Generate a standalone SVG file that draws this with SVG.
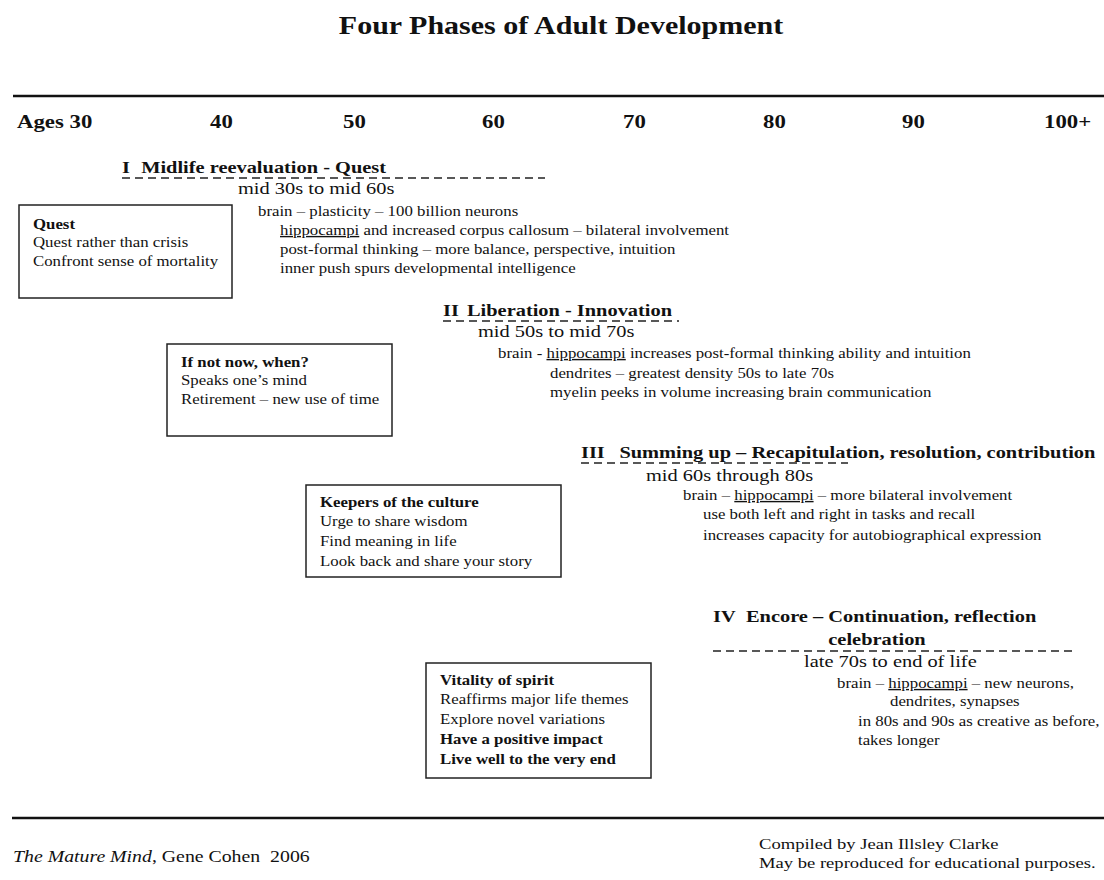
<svg xmlns="http://www.w3.org/2000/svg" width="1104" height="880" viewBox="0 0 1104 880">
<style>
text{font-family:"Liberation Serif","Times New Roman",serif;fill:#111}
.t{font-size:25px;font-weight:bold}
.age{font-size:19px;font-weight:bold}
.ph{font-size:17px;font-weight:bold}
.rng{font-size:17px}
.br{font-size:14px}
.bx{font-size:14px}
.b{font-weight:bold}
.box{fill:#fff;stroke:#222;stroke-width:1.5}
.rule{stroke:#111;stroke-width:2.5}
.dash{stroke:#222;stroke-width:1.6;stroke-dasharray:8 5;fill:none}
.u{text-decoration:underline}
</style>
<text class="t" transform="matrix(1.2 0 0 1 561 0)" x="0" y="34" text-anchor="middle">Four Phases of Adult Development</text>
<line class="rule" x1="13" y1="96" x2="1104" y2="96"/>
<g id="ages">
<text class="age" transform="matrix(1.2 0 0 1 17 0)" x="0" y="128">Ages 30</text>
<text class="age" transform="matrix(1.2 0 0 1 210 0)" x="0" y="128">40</text>
<text class="age" transform="matrix(1.2 0 0 1 343 0)" x="0" y="128">50</text>
<text class="age" transform="matrix(1.2 0 0 1 482 0)" x="0" y="128">60</text>
<text class="age" transform="matrix(1.2 0 0 1 623 0)" x="0" y="128">70</text>
<text class="age" transform="matrix(1.2 0 0 1 763 0)" x="0" y="128">80</text>
<text class="age" transform="matrix(1.2 0 0 1 902 0)" x="0" y="128">90</text>
<text class="age" transform="matrix(1.2 0 0 1 1044 0)" x="0" y="128">100+</text>
</g>
<g id="phase1">
<text class="ph" transform="matrix(1.2 0 0 1 122 0)" x="0" y="173">I<tspan x="16">Midlife reevaluation - Quest</tspan></text>
<line class="dash" x1="122" y1="178" x2="545" y2="178"/>
<text class="rng" transform="matrix(1.2 0 0 1 238 0)" x="0" y="194">mid 30s to mid 60s</text>
<text class="br" transform="matrix(1.2 0 0 1 258 0)" x="0" y="216">brain – plasticity – 100 billion neurons</text>
<text class="br" transform="matrix(1.2 0 0 1 280 0)" x="0" y="235"><tspan class="u">hippocampi</tspan> and increased corpus callosum – bilateral involvement</text>
<text class="br" transform="matrix(1.2 0 0 1 280 0)" x="0" y="254">post-formal thinking – more balance, perspective, intuition</text>
<text class="br" transform="matrix(1.2 0 0 1 280 0)" x="0" y="273">inner push spurs developmental intelligence</text>
</g>
<g id="box1">
<rect class="box" x="19" y="205" width="213" height="93"/>
<text class="bx b" transform="matrix(1.2 0 0 1 33 0)" x="0" y="229">Quest</text>
<text class="bx" transform="matrix(1.2 0 0 1 33 0)" x="0" y="247">Quest rather than crisis</text>
<text class="bx" transform="matrix(1.2 0 0 1 33 0)" x="0" y="266">Confront sense of mortality</text>
</g>
<g id="phase2">
<text class="ph" transform="matrix(1.2 0 0 1 443 0)" x="0" y="316">II<tspan x="20">Liberation - Innovation</tspan></text>
<line class="dash" x1="443" y1="321" x2="679" y2="321"/>
<text class="rng" transform="matrix(1.2 0 0 1 478 0)" x="0" y="337">mid 50s to mid 70s</text>
<text class="br" transform="matrix(1.2 0 0 1 498 0)" x="0" y="358">brain - <tspan class="u">hippocampi</tspan> increases post-formal thinking ability and intuition</text>
<text class="br" transform="matrix(1.2 0 0 1 550 0)" x="0" y="378">dendrites – greatest density 50s to late 70s</text>
<text class="br" transform="matrix(1.2 0 0 1 550 0)" x="0" y="397">myelin peeks in volume increasing brain communication</text>
</g>
<g id="box2">
<rect class="box" x="167" y="344" width="225" height="92"/>
<text class="bx b" transform="matrix(1.2 0 0 1 181 0)" x="0" y="367">If not now, when?</text>
<text class="bx" transform="matrix(1.2 0 0 1 181 0)" x="0" y="385">Speaks one’s mind</text>
<text class="bx" transform="matrix(1.2 0 0 1 181 0)" x="0" y="404">Retirement – new use of time</text>
</g>
<g id="phase3">
<text class="ph" transform="matrix(1.2 0 0 1 581 0)" x="0" y="458">III<tspan x="32">Summing up – Recapitulation, resolution, contribution</tspan></text>
<line class="dash" x1="581" y1="463" x2="848" y2="463"/>
<text class="rng" transform="matrix(1.2 0 0 1 646 0)" x="0" y="481">mid 60s through 80s</text>
<text class="br" transform="matrix(1.2 0 0 1 683 0)" x="0" y="500">brain – <tspan class="u">hippocampi</tspan> – more bilateral involvement</text>
<text class="br" transform="matrix(1.2 0 0 1 703 0)" x="0" y="519">use both left and right in tasks and recall</text>
<text class="br" transform="matrix(1.2 0 0 1 703 0)" x="0" y="540">increases capacity for autobiographical expression</text>
</g>
<g id="box3">
<rect class="box" x="306" y="485" width="255" height="92"/>
<text class="bx b" transform="matrix(1.2 0 0 1 320 0)" x="0" y="507">Keepers of the culture</text>
<text class="bx" transform="matrix(1.2 0 0 1 320 0)" x="0" y="526">Urge to share wisdom</text>
<text class="bx" transform="matrix(1.2 0 0 1 320 0)" x="0" y="546">Find meaning in life</text>
<text class="bx" transform="matrix(1.2 0 0 1 320 0)" x="0" y="566">Look back and share your story</text>
</g>
<g id="phase4">
<text class="ph" transform="matrix(1.2 0 0 1 713 0)" x="0" y="622">IV<tspan x="27.5">Encore – Continuation, reflection</tspan></text>
<text class="ph" transform="matrix(1.2 0 0 1 877 0)" x="0" y="645" text-anchor="middle">celebration</text>
<line class="dash" x1="713" y1="651" x2="1075" y2="651"/>
<text class="rng" transform="matrix(1.2 0 0 1 804 0)" x="0" y="667">late 70s to end of life</text>
<text class="br" transform="matrix(1.2 0 0 1 837 0)" x="0" y="688">brain – <tspan class="u">hippocampi</tspan> – new neurons,</text>
<text class="br" transform="matrix(1.2 0 0 1 890 0)" x="0" y="706">dendrites, synapses</text>
<text class="br" transform="matrix(1.2 0 0 1 858 0)" x="0" y="726">in 80s and 90s as creative as before,</text>
<text class="br" transform="matrix(1.2 0 0 1 858 0)" x="0" y="745">takes longer</text>
</g>
<g id="box4">
<rect class="box" x="426" y="663" width="225" height="115"/>
<text class="bx b" transform="matrix(1.2 0 0 1 440 0)" x="0" y="685">Vitality of spirit</text>
<text class="bx" transform="matrix(1.2 0 0 1 440 0)" x="0" y="704">Reaffirms major life themes</text>
<text class="bx" transform="matrix(1.2 0 0 1 440 0)" x="0" y="724">Explore novel variations</text>
<text class="bx b" transform="matrix(1.2 0 0 1 440 0)" x="0" y="744">Have a positive impact</text>
<text class="bx b" transform="matrix(1.2 0 0 1 440 0)" x="0" y="764">Live well to the very end</text>
</g>
<g id="connectors"></g>
<line class="rule" x1="12" y1="818" x2="1104" y2="818"/>
<text transform="matrix(1.2 0 0 1 13 0)" x="0" y="862" style="font-size:16.5px" xml:space="preserve"><tspan font-style="italic">The Mature Mind</tspan>, Gene Cohen  2006</text>
<text transform="matrix(1.2 0 0 1 759 0)" x="0" y="849" style="font-size:15.5px">Compiled by Jean Illsley Clarke</text>
<text transform="matrix(1.2 0 0 1 759 0)" x="0" y="868" style="font-size:15.5px">May be reproduced for educational purposes.</text>
</svg>
